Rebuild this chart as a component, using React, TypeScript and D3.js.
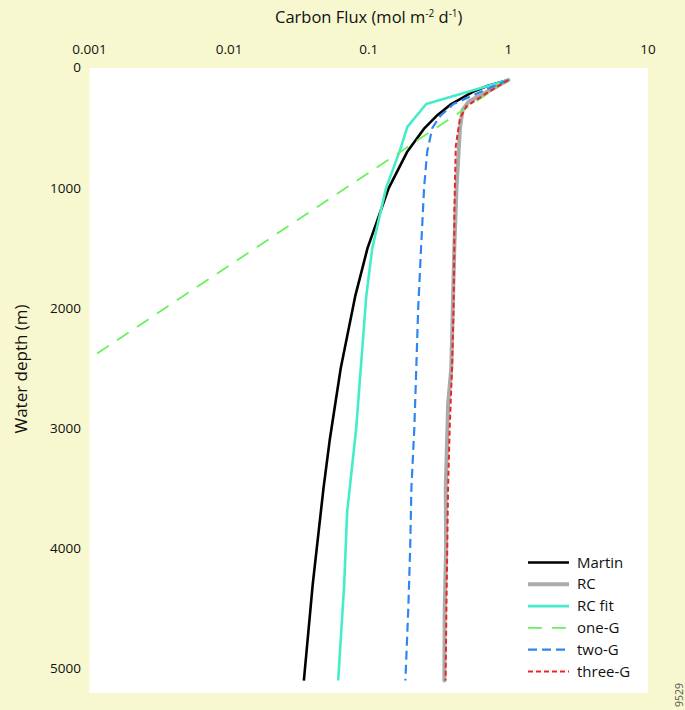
import React from "react";
import * as d3 from "d3";

const xTicks = [0.001, 0.01, 0.1, 1, 10];
const xTickLabels = ["0.001", "0.01", "0.1", "1", "10"];
const yTicks = [0, 1000, 2000, 3000, 4000, 5000];

const martinDepth = [100, 150, 200, 300, 400, 500, 700, 1000, 1500, 1900, 2500, 3100, 3500, 4300, 5100];
const martinFlux = [1, 0.706, 0.552, 0.39, 0.305, 0.251, 0.188, 0.139, 0.098, 0.08, 0.063, 0.0525, 0.0474, 0.0397, 0.0343];

const rcDepth = [100, 200, 280, 350, 500, 700, 1000, 1500, 2000, 2500, 2800, 3000, 3500, 4000, 4500, 5100];
const rcFlux = [1, 0.7, 0.52, 0.47, 0.45, 0.44, 0.425, 0.41, 0.4, 0.39, 0.37, 0.366, 0.356, 0.358, 0.35, 0.348];

const rcFitDepth = [100, 300, 490, 680, 1000, 1500, 1900, 3000, 3700, 4300, 5100];
const rcFitFlux = [1, 0.258, 0.189, 0.168, 0.133, 0.106, 0.096, 0.0813, 0.07, 0.0667, 0.0604];

const oneGDepth = [100, 500, 1000, 1500, 2000, 2420];
const oneGFlux = [1, 0.303, 0.0684, 0.0154, 0.00347, 0.001];

const twoGDepth = [100, 200, 300, 400, 500, 700, 1000, 1500, 2000, 2500, 3000, 3500, 4000, 4500, 5100];
const twoGFlux = [1, 0.63, 0.404, 0.325, 0.285, 0.262, 0.249, 0.237, 0.226, 0.219, 0.212, 0.202, 0.198, 0.192, 0.183];

const threeGDepth = [100, 200, 320, 420, 650, 1200, 1500, 2000, 2500, 3000, 3500, 4000, 4500, 5100];
const threeGFlux = [1, 0.72, 0.5, 0.45, 0.42, 0.41, 0.41, 0.405, 0.395, 0.38, 0.37, 0.365, 0.36, 0.355];

const seriesNames = ["Martin", "RC", "RC fit", "one-G", "two-G", "three-G"];
const seriesColors = ["#000000", "#ababab", "#45ecc9", "#6af060", "#2f86f0", "#ee2424"];
const seriesWidths = [2.6, 4, 2.6, 1.8, 2.2, 2];
const seriesDash = ["", "", "", "14,10", "9,5", "5,3"];

const W = 685;
const H = 710;
const left = 89.5;
const right = 648;
const top = 68;
const bottom = 693;

export default function App() {
  const x = d3.scaleLog().domain([0.001, 10]).range([left, right]);
  const y = d3.scaleLinear().domain([0, 5204]).range([top, bottom]);
  const font = "'Open Sans', 'Noto Sans', sans-serif";

  const seriesData: [number[], number[]][] = [
    [martinDepth, martinFlux],
    [rcDepth, rcFlux],
    [rcFitDepth, rcFitFlux],
    [oneGDepth, oneGFlux],
    [twoGDepth, twoGFlux],
    [threeGDepth, threeGFlux],
  ];

  const line = d3
    .line<[number, number]>()
    .x((d) => x(d[1]))
    .y((d) => y(d[0]));

  const legendX1 = 528;
  const legendX2 = 569;
  const legendY0 = 562.5;
  const legendStep = 21.8;

  return (
    <svg
      width={W}
      height={H}
      style={{ position: "absolute", left: 0, top: 0 }}
      fontFamily={font}
    >
      <defs>
        <clipPath id="plotclip">
          <rect x={left} y={top} width={right - left} height={bottom - top} />
        </clipPath>
      </defs>
      <rect x={0} y={0} width={W} height={H} fill="#f7f8cf" />
      <rect x={left} y={top} width={right - left} height={bottom - top} fill="#ffffff" />

      <text x={(left + right) / 2} y={23} textAnchor="middle" fontSize={16.5} fill="#111">
        Carbon Flux (mol m
        <tspan fontSize={10} dy={-6}>-2</tspan>
        <tspan dy={6}> d</tspan>
        <tspan fontSize={10} dy={-6}>-1</tspan>
        <tspan dy={6}>)</tspan>
      </text>

      {xTicks.map((t, i) => (
        <text key={"xt" + i} x={x(t)} y={54} textAnchor="middle" fontSize={13.5} fill="#111">
          {xTickLabels[i]}
        </text>
      ))}

      {yTicks.map((t, i) => (
        <text key={"yt" + i} x={81} y={y(t) + 5 - (t === 0 ? 1 : 0)} textAnchor="end" fontSize={13.5} fill="#111">
          {t}
        </text>
      ))}

      <text
        transform={`translate(27, ${369}) rotate(-90)`}
        textAnchor="middle"
        fontSize={17}
        fill="#111"
      >
        Water depth (m)
      </text>

      <g clipPath="url(#plotclip)">
        {seriesData.map(([dep, flx], i) => {
          const pts: [number, number][] = dep.map((dd, j) => [dd, flx[j]]);
          return (
            <path
              key={"s" + i}
              d={line(pts) || ""}
              fill="none"
              stroke={seriesColors[i]}
              strokeWidth={seriesWidths[i]}
              strokeDasharray={seriesDash[i] || undefined}
              strokeLinejoin="round"
              strokeLinecap={i === 1 ? "round" : "butt"}
            />
          );
        })}
      </g>

      {seriesNames.map((n, i) => {
        const ly = legendY0 + i * legendStep;
        return (
          <g key={"lg" + i}>
            <line
              x1={legendX1}
              x2={legendX2}
              y1={ly}
              y2={ly}
              stroke={seriesColors[i]}
              strokeWidth={seriesWidths[i]}
              strokeDasharray={seriesDash[i] || undefined}
            />
            <text x={577} y={ly + 5} fontSize={15} fill="#111">
              {n}
            </text>
          </g>
        );
      })}

      <text
        transform={`translate(683, 695) rotate(-90)`}
        textAnchor="middle"
        fontSize={10.5}
        fill="#555"
      >
        9529
      </text>
    </svg>
  );
}
